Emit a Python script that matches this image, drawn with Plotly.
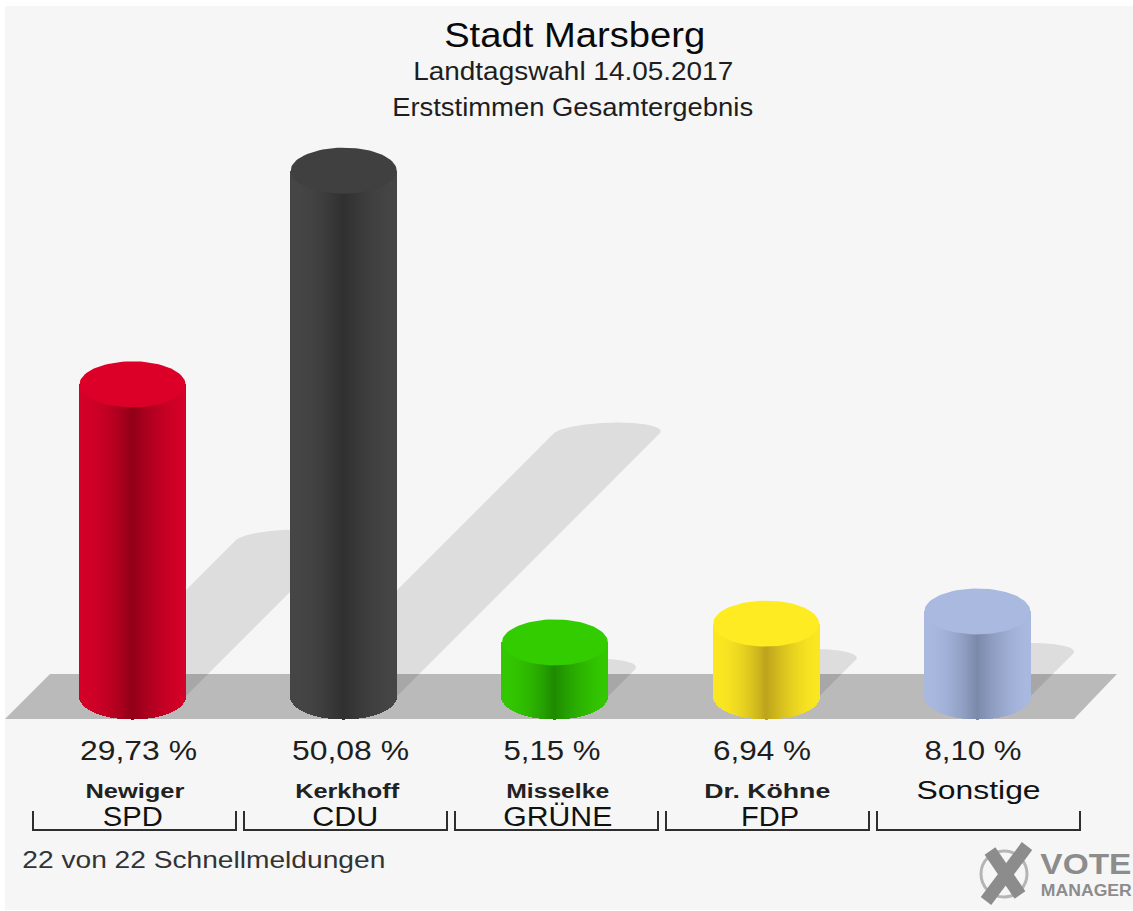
import json
import numpy as np
import plotly.graph_objects as go

# ---- data ----
title_lines = ["Stadt Marsberg", "Landtagswahl 14.05.2017", "Erststimmen Gesamtergebnis"]
parties = ["SPD", "CDU", "GRÜNE", "FDP", ""]
candidates = ["Newiger", "Kerkhoff", "Misselke", "Dr. Köhne", "Sonstige"]
values = [29.73, 50.08, 5.15, 6.94, 8.10]
footnote = "22 von 22 Schnellmeldungen"
top_colors = ["#DC0028", "#404040", "#33CC00", "#FFEB22", "#A9B9E0"]
edge_colors = ["#D40028", "#464646", "#33C800", "#FBE822", "#A9B9E0"]
core_colors = ["#900018", "#303030", "#1E8A00", "#BDA31C", "#7B89AA"]

# ---- page geometry (pixels) ----
W, H = 1133, 911
X0_PX, DX_PX = 132.5, 211.2      # first cylinder centre, spacing
Y0_PX, PX_PER_PCT = 696.5, 10.5  # baseline, scale
RX_PX, RY_PX, SHADOW_RY_PX = 53.0, 23.0, 11.0

xrange_ = [-X0_PX / DX_PX, (W - X0_PX) / DX_PX]
yrange_ = [-(H - Y0_PX) / PX_PER_PCT, Y0_PX / PX_PER_PCT]
rx = RX_PX / DX_PX
ry = RY_PX / PX_PER_PCT


def hexrgb(c):
    return np.array([int(c[i:i + 2], 16) for i in (1, 3, 5)], dtype=float)


def px(x):
    return x / W


def py(y):
    return 1 - y / H


fig = go.Figure()
shapes = [
    dict(type="rect", xref="paper", yref="paper", x0=px(5), x1=1, y0=py(910), y1=py(6),
         fillcolor="#F6F6F6", line_width=0, layer="below"),
    dict(type="path", xref="paper", yref="paper",
         path=f"M {px(5)} {py(719)} L {px(50)} {py(674)} L {px(1117)} {py(674)} L {px(1074)} {py(719)} Z",
         fillcolor="#BABABA", line_width=0, layer="below"),
]

# shadows: sheared copies of the cylinders
t = np.linspace(0, np.pi, 40)
for i, v in enumerate(values):
    shift_x = 0.5 * v * PX_PER_PCT / DX_PX
    cx = i + shift_x
    cy = 0.5 * v
    sry = SHADOW_RY_PX / PX_PER_PCT
    xs = cx + rx * np.cos(t) + SHADOW_RY_PX * np.sin(t) / DX_PX
    ys = cy + sry * np.sin(t)
    path = f"M {i + rx} 0 " + " ".join(f"L {a:.4f} {b:.4f}" for a, b in zip(xs, ys)) + f" L {i - rx} 0 Z"
    shapes.append(dict(type="path", xref="x", yref="y", path=path,
                       fillcolor="rgba(0,0,0,0.10)", line_width=0, layer="below"))

# cylinder bodies: thin bars with a gradient
N = 106
u = (np.arange(N) + 0.5) / N * 2 - 1
mix = np.where(u < 0, (1 - np.abs(u)) ** 2.0, (1 - np.abs(u)) ** 1.6)
for i, v in enumerate(values):
    e, c = hexrgb(edge_colors[i]), hexrgb(core_colors[i])
    cols = [f"rgb({int(a)},{int(b)},{int(d)})" for a, b, d in (e + (c - e) * m for m in mix)]
    drop = ry * np.sqrt(1 - u ** 2)
    fig.add_trace(go.Bar(
        x=i + u * rx, y=v + drop, base=-drop, width=2.2 * rx / N,
        marker=dict(color=cols, line_width=0), hoverinfo="skip", showlegend=False))

# cylinder caps
a = np.linspace(0, 2 * np.pi, 90)
for i, v in enumerate(values):
    fig.add_trace(go.Scatter(
        x=i + rx * np.cos(a), y=v + ry * np.sin(a), mode="lines", fill="toself",
        fillcolor=top_colors[i], line=dict(width=0, color=top_colors[i]),
        hoverinfo="skip", showlegend=False))

# brackets
TICK = "#2E2E2E"
for i in range(5):
    l, r = 33 + 211.0 * i, 236 + 211.0 * i
    shapes.append(dict(type="path", xref="paper", yref="paper",
                       path=f"M {px(l)} {py(811)} L {px(l)} {py(830)} L {px(r)} {py(830)} L {px(r)} {py(811)}",
                       line=dict(color=TICK, width=2), layer="above"))

# logo
LOGO = "#8C8C8C"
shapes += [
    dict(type="circle", xref="paper", yref="paper", x0=px(981), x1=px(1027), y0=py(897), y1=py(851),
         line=dict(color="#B5B5B5", width=3), layer="above"),
    dict(type="line", xref="paper", yref="paper", x0=px(986), y0=py(901), x1=px(1027), y1=py(846),
         line=dict(color=LOGO, width=13), layer="above"),
    dict(type="line", xref="paper", yref="paper", x0=px(990), y0=py(851), x1=px(1020), y1=py(895),
         line=dict(color=LOGO, width=13), layer="above"),
]

annotations = []
widths = {}


def text(s, x, y, size, width, color="#1E1E1E", bold=False):
    """Centred page text; width is the horizontal extent seen in the reference."""
    widths[s] = width
    annotations.append(dict(
        text=f"<b>{s}</b>" if bold else s, x=px(x), y=py(y), xref="paper", yref="paper",
        xanchor="center", yanchor="middle", showarrow=False,
        font=dict(family="Liberation Sans, Arial, sans-serif", size=size, color=color)))


text(title_lines[0], 574.5, 35, 35, 261, "#0A0A0A")
text(title_lines[1], 573, 71, 25, 320)
text(title_lines[2], 572.5, 107, 25, 361)
value_x = [138.5, 350.5, 551.5, 762, 972.5]
value_w = [117, 117, 97, 98, 97]
name_x = [134.5, 347, 557.5, 767, 979]
name_w = [99, 104, 103, 126, 124]
party_x = [133, 345, 557.5, 770]
party_w = [60, 66, 109, 58]
for i, v in enumerate(values):
    text(f"{v:.2f}".replace(".", ",") + " %", value_x[i], 751, 27, value_w[i])
    if i == 4:
        text(candidates[i], name_x[i], 790, 26, name_w[i], "#111111")
    else:
        text(candidates[i], name_x[i], 791, 20, name_w[i], "#222222", bold=True)
    if parties[i]:
        text(parties[i], party_x[i], 817, 27, party_w[i], "#111111")
text(footnote, 203.5, 859, 24, 363, "#333333")
text("VOTE", 1086, 863, 30, 91, LOGO, bold=True)
text("MANAGER", 1086, 890, 16, 91, LOGO, bold=True)

fig.update_layout(
    width=W, height=H, autosize=False, margin=dict(l=0, r=0, t=0, b=0, pad=0),
    paper_bgcolor="#FFFFFF", plot_bgcolor="rgba(0,0,0,0)",
    barmode="overlay", bargap=0, showlegend=False,
    xaxis=dict(range=xrange_, visible=False, fixedrange=True),
    yaxis=dict(range=yrange_, visible=False, fixedrange=True),
    shapes=shapes, annotations=annotations,
)
post = (
    "document.body.style.margin='0';document.documentElement.style.overflow='hidden';"
    "var W_=" + json.dumps(widths) + ";"
    "document.querySelectorAll('.annotation-text').forEach(function(t){"
    "var w=W_[t.textContent];if(w){t.setAttribute('textLength',w);t.setAttribute('lengthAdjust','spacingAndGlyphs');}"
    "});"
)
fig.write_html("out.html", config={"displayModeBar": False}, post_script=post)
